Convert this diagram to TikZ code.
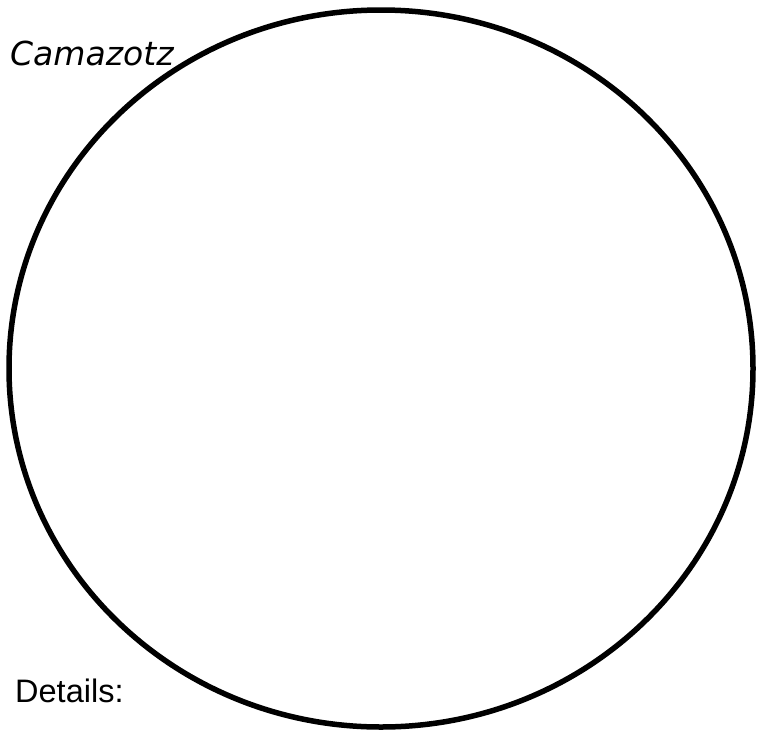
\documentclass[tikz,border=0pt]{standalone}
\usepackage{fontspec}
\setmainfont{Liberation Sans}
\newfontfamily\handfont{DejaVu Sans}
\begin{document}
\begin{tikzpicture}[x=1pt,y=-1pt,
  outline/.style={draw=black,line width=5.5pt},
  lbl/.style={inner sep=0pt,anchor=base west}]
\useasboundingbox (0,0) rectangle (757,731);
\fill[white] (0,0) rectangle (757,731);
\draw[outline] (381,368.5) ellipse [x radius=372, y radius=358.5];
\node[lbl,font=\handfont\itshape\fontsize{33}{36}\selectfont] (title) at (10,65) {Camazotz};
\node[lbl,font=\fontsize{32.5}{38}\selectfont] (details) at (15,702) {Details:};
\end{tikzpicture}
\end{document}
